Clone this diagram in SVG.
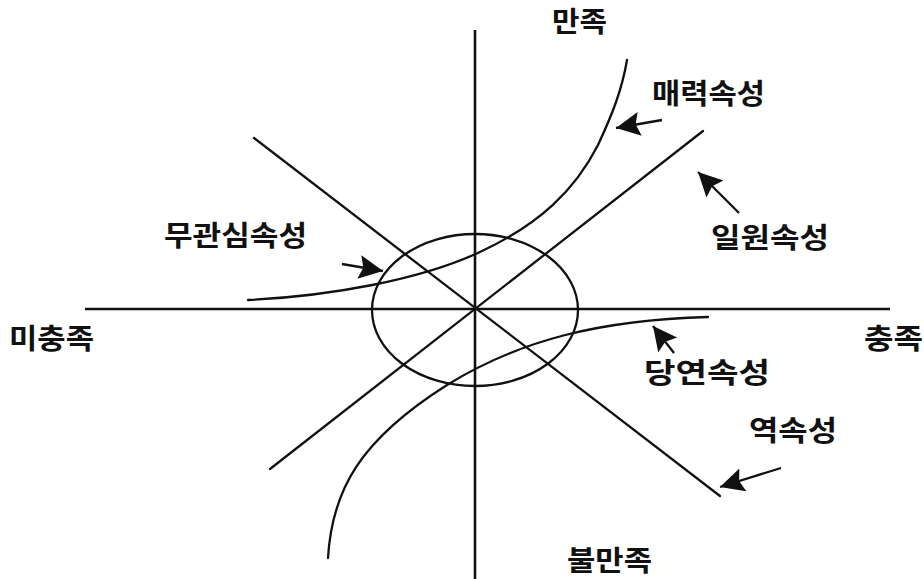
<svg xmlns="http://www.w3.org/2000/svg" width="924" height="579" viewBox="0 0 924 579">
<style>
.ln{fill:none;stroke:#111;stroke-width:2.3;stroke-linecap:round}
.ax{fill:none;stroke:#111;stroke-width:2.6}
.ar{fill:none;stroke:#111;stroke-width:2.3}
.lb{font-family:"Noto Sans CJK KR","Noto Sans",sans-serif;font-weight:bold;font-size:28px;fill:#111}
</style>
<defs>
<marker id="ah" markerUnits="userSpaceOnUse" markerWidth="28" markerHeight="26" refX="24" refY="12" orient="auto">
<path d="M0,0 L24,12 L0,24 L4,12 Z" fill="#111"/>
</marker>
</defs>
<g id="connectors">
<line class="ax" x1="475" y1="30" x2="475" y2="579"/>
<line class="ax" x1="85" y1="309" x2="890" y2="309"/>
<ellipse class="ln" cx="475" cy="310" rx="103" ry="76"/>
<line class="ln" x1="254" y1="138" x2="720" y2="496"/>
<line class="ln" x1="270" y1="469" x2="703" y2="131"/>
<path class="ln" d="M248,300 C330,296 420,280 480,252 C540,224 575,190 598,145 C612,115 622,90 627,60"/>
<path class="ln" d="M328,558 C332,490 360,440 447,385 C520,340 600,320 708,317"/>
<line class="ar" x1="662" y1="120" x2="616" y2="128" marker-end="url(#ah)"/>
<line class="ar" x1="739" y1="213" x2="698" y2="172" marker-end="url(#ah)"/>
<line class="ar" x1="342" y1="264" x2="383" y2="271" marker-end="url(#ah)"/>
<line class="ar" x1="674" y1="353" x2="653" y2="326" marker-end="url(#ah)"/>
<line class="ar" x1="781" y1="468" x2="720" y2="487" marker-end="url(#ah)"/>
</g>
<g id="satisfied"><text class="lb" x="552" y="32" textLength="55" lengthAdjust="spacingAndGlyphs">만족</text></g>
<g id="attractive"><text class="lb" x="652" y="104" textLength="113" lengthAdjust="spacingAndGlyphs">매력속성</text></g>
<g id="indifferent"><text class="lb" x="164" y="246" textLength="143" lengthAdjust="spacingAndGlyphs">무관심속성</text></g>
<g id="one-dimensional"><text class="lb" x="711" y="248" textLength="118" lengthAdjust="spacingAndGlyphs">일원속성</text></g>
<g id="not-fulfilled"><text class="lb" x="9" y="349" textLength="85" lengthAdjust="spacingAndGlyphs">미충족</text></g>
<g id="fulfilled"><text class="lb" x="864" y="349" textLength="59" lengthAdjust="spacingAndGlyphs">충족</text></g>
<g id="must-be"><text class="lb" x="644" y="383" textLength="126" lengthAdjust="spacingAndGlyphs">당연속성</text></g>
<g id="reverse"><text class="lb" x="749" y="441" textLength="88" lengthAdjust="spacingAndGlyphs">역속성</text></g>
<g id="dissatisfied"><text class="lb" x="567" y="571" textLength="85" lengthAdjust="spacingAndGlyphs">불만족</text></g>
</svg>
